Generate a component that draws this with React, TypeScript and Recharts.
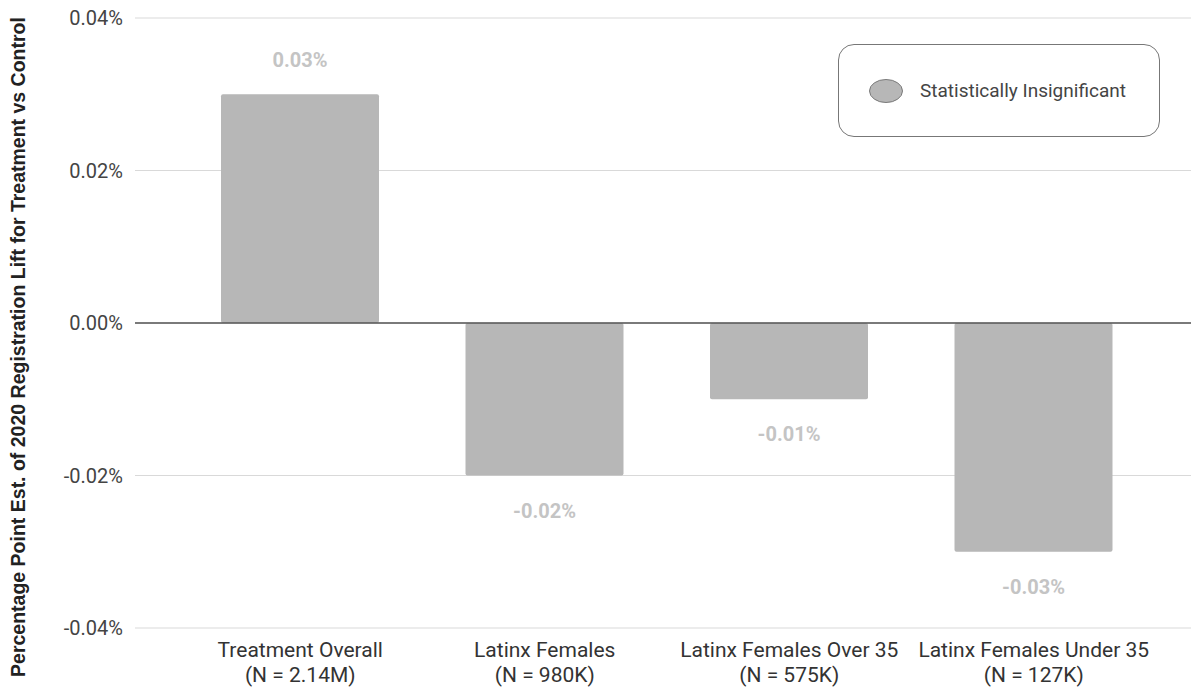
import { BarChart, Bar, XAxis, YAxis, CartesianGrid, ReferenceLine, LabelList, Label } from "recharts";

const groups = ["Treatment Overall", "Latinx Females", "Latinx Females Over 35", "Latinx Females Under 35"];
const sampleSizes = ["N = 2.14M", "N = 980K", "N = 575K", "N = 127K"];
const lift = [0.03, -0.02, -0.01, -0.03];
const yTicks = [-0.04, -0.02, 0, 0.02, 0.04];

const BAR = "#b7b7b7";
const FONT = "Roboto, 'Noto Sans', sans-serif";

const data = groups.map((g, i) => ({ group: g, n: sampleSizes[i], lift: lift[i] }));

const pct = (v: number) => `${v.toFixed(2)}%`;

function GroupTick({ x, y, payload, index }: any) {
  return (
    <text x={x} textAnchor="middle" fontFamily={FONT} fontSize={21} fill="#333">
      <tspan x={x} y={y + 29}>{payload.value}</tspan>
      <tspan x={x} y={y + 54}>({sampleSizes[index]})</tspan>
    </text>
  );
}

function ValueLabel({ x, y, width, height, value }: any) {
  const top = Math.min(y, y + height);
  const bottom = Math.max(y, y + height);
  const ly = value >= 0 ? top - 34 : bottom + 35;
  return (
    <text x={x + width / 2} y={ly} textAnchor="middle" dominantBaseline="central"
      fontFamily={FONT} fontSize={20} fontWeight="bold" fill="#c4c4c4">
      {pct(value)}
    </text>
  );
}

// legend sits over the plot, top right
function LegendBox() {
  return (
    <div style={{
      position: "absolute", left: 838, top: 44, width: 320, height: 91,
      border: "1px solid #777", borderRadius: 16, background: "#fff",
      display: "flex", alignItems: "center",
    }}>
      <svg width={36} height={26} style={{ marginLeft: 29 }}>
        <ellipse cx={18} cy={13} rx={16.5} ry={11.5} fill={BAR} stroke="#7a7a7a" strokeWidth={1} />
      </svg>
      <span style={{ marginLeft: 16, fontFamily: FONT, fontSize: 19, color: "#444" }}>Statistically Insignificant</span>
    </div>
  );
}

export default function App() {
  return (
    <div style={{ position: "absolute", left: 0, top: 0, width: 1191, height: 692, background: "#fff" }}>
      <BarChart width={1191} height={692} data={data} margin={{ top: 18, right: 0, bottom: 0, left: 0 }}>
        <CartesianGrid vertical={false} stroke="#d9d9d9" strokeWidth={1.2} />
        <XAxis dataKey="group" axisLine={false} tickLine={false} tickSize={0} tickMargin={0} height={64}
          padding={{ left: 43, right: 35 }} interval={0} tick={<GroupTick />} />
        <YAxis domain={[-0.04, 0.04]} ticks={yTicks} tickFormatter={pct} width={135}
          axisLine={false} tickLine={false} tickSize={0} tickMargin={12}
          tick={{ fontFamily: FONT, fontSize: 20, fill: "#444" }}>
          <Label content={() => (
            <text x={18} y={347} transform="rotate(-90 18 347)" textAnchor="middle" dominantBaseline="central"
              fontFamily="'Liberation Sans', Arial, sans-serif" fontSize={19.5} fontWeight="bold" fill="#222">
              Percentage Point Est. of 2020 Registration Lift for Treatment vs Control
            </text>
          )} />
        </YAxis>
        <Bar dataKey="lift" fill={BAR} barSize={158} radius={2} isAnimationActive={false}>
          <LabelList dataKey="lift" content={<ValueLabel />} />
        </Bar>
        <ReferenceLine y={0} stroke="#555" strokeWidth={1.6} />
      </BarChart>
      <LegendBox />
    </div>
  );
}
